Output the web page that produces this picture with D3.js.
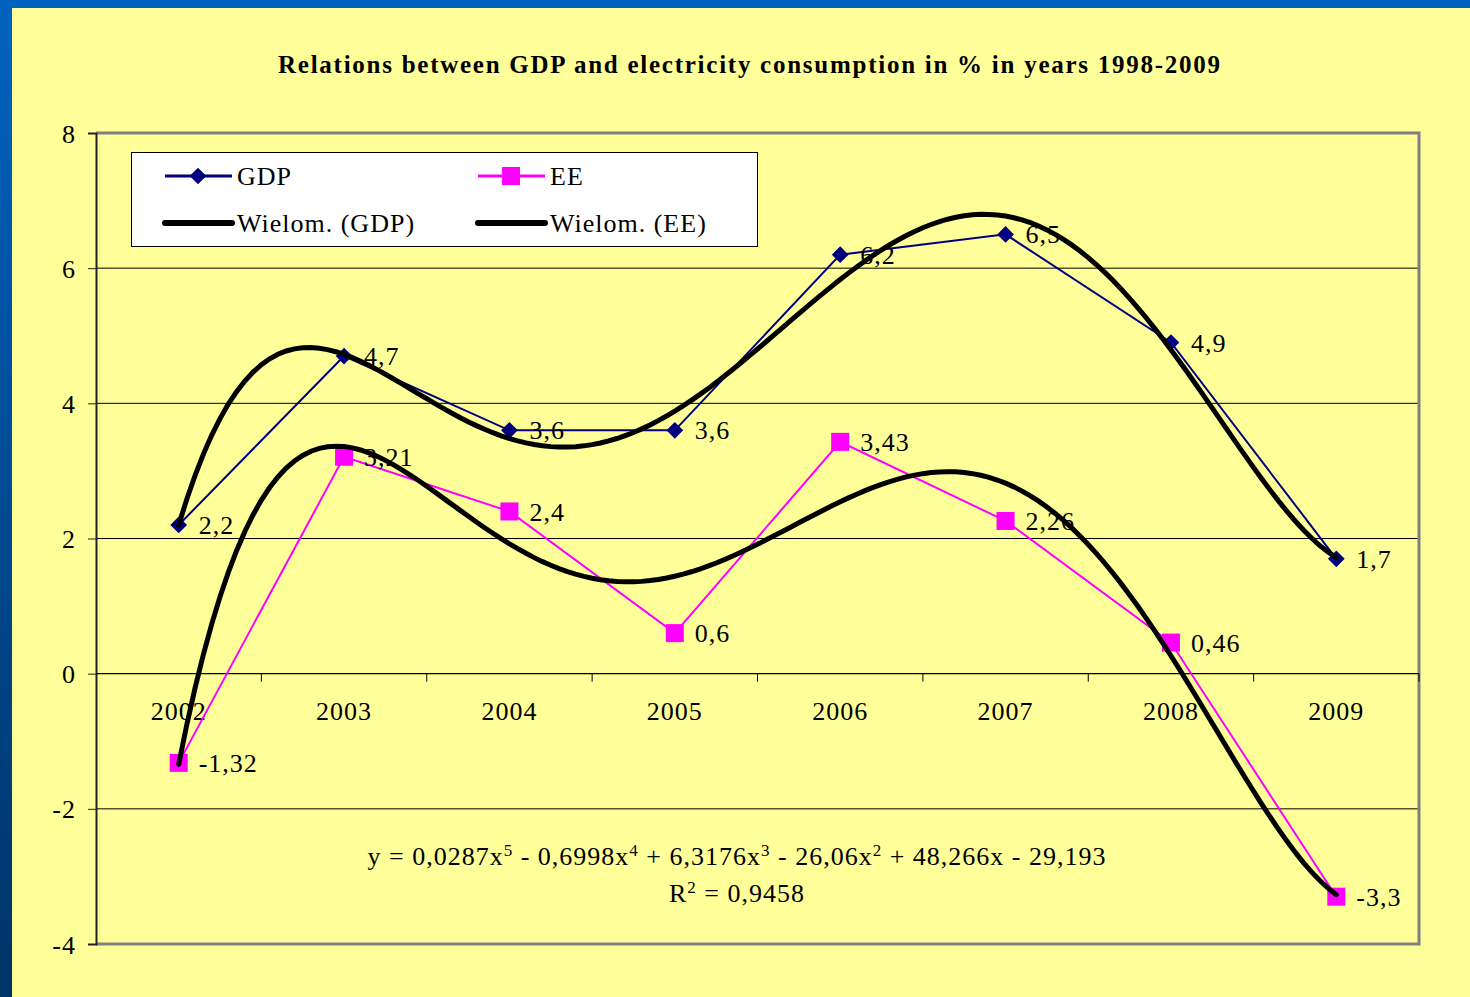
<!DOCTYPE html>
<html><head><meta charset="utf-8">
<script src="https://cdn.jsdelivr.net/npm/d3@7"></script>
<style>
html,body{margin:0;padding:0;background:#FFFF99;}
svg{display:block;}
text{font-family:"Liberation Serif","Times New Roman",serif;fill:#000;}
</style></head>
<body>
<script>
// ---- data ----
const years = ["2002","2003","2004","2005","2006","2007","2008","2009"];
const gdp = [2.2, 4.7, 3.6, 3.6, 6.2, 6.5, 4.9, 1.7];
const ee  = [-1.32, 3.21, 2.4, 0.6, 3.43, 2.26, 0.46, -3.3];
const yTicks = [-4, -2, 0, 2, 4, 6, 8];
const seriesNames = ["GDP", "EE", "Wielom. (GDP)", "Wielom. (EE)"];
const titleText = "Relations between GDP and electricity consumption in % in years 1998-2009";
const eqParts = [["y = 0,0287x",""],["5","sup"],[" - 0,6998x",""],["4","sup"],[" + 6,3176x",""],["3","sup"],[" - 26,06x",""],["2","sup"],[" + 48,266x - 29,193",""]];
const r2Parts = [["R",""],["2","sup"],[" = 0,9458",""]];

// ---- polynomial least squares (degree 5) trendline from data ----
function polyFit(ys, deg){
  const n = deg+1, A = [], b = [];
  for(let i=0;i<n;i++){A.push(new Array(n).fill(0)); b.push(0);}
  ys.forEach((yv,k)=>{const xv=k+1;
    for(let i=0;i<n;i++){ for(let j=0;j<n;j++) A[i][j]+=Math.pow(xv,i+j); b[i]+=yv*Math.pow(xv,i);} });
  for(let c=0;c<n;c++){
    let p=c; for(let r=c+1;r<n;r++) if(Math.abs(A[r][c])>Math.abs(A[p][c])) p=r;
    [A[c],A[p]]=[A[p],A[c]]; [b[c],b[p]]=[b[p],b[c]];
    for(let r=0;r<n;r++){ if(r===c) continue; const f=A[r][c]/A[c][c];
      for(let j=c;j<n;j++) A[r][j]-=f*A[c][j]; b[r]-=f*b[c]; }
  }
  return b.map((v,i)=>v/A[i][i]);
}
const polyEval = (co,x)=>co.reduce((s,c,i)=>s+c*Math.pow(x,i),0);

const W=1470,H=997;
const FS=26, LS=1;
const svg=d3.select("body").append("svg").attr("width",W).attr("height",H);

// background frame
const defs=svg.append("defs");
const lg=defs.append("linearGradient").attr("id","side").attr("x1",0).attr("y1",0).attr("x2",0).attr("y2",1);
lg.append("stop").attr("offset","0%").attr("stop-color","#0062C0");
lg.append("stop").attr("offset","100%").attr("stop-color","#003366");
svg.append("rect").attr("x",0).attr("y",0).attr("width",W).attr("height",H).attr("fill","#FFFF99");
svg.append("rect").attr("x",0).attr("y",0).attr("width",W).attr("height",8).attr("fill","#0060BF");
svg.append("rect").attr("x",0).attr("y",0).attr("width",12).attr("height",H).attr("fill","url(#side)");

const L=96,R=1419,T=133,B=944;
const xBand=d3.scaleBand().domain(years).range([L,R]).padding(0);
const xLin=d3.scaleLinear().domain([0.5,years.length+0.5]).range([L,R]);
const y=d3.scaleLinear().domain([-4,8]).range([B,T]);
const cx=d=>xBand(d)+xBand.bandwidth()/2;
const fmt=v=>String(v).replace(".",",");

// title
svg.append("text").attr("x",(278+1220)/2).attr("y",73).attr("text-anchor","middle")
  .attr("font-weight","bold").attr("font-size",25).attr("textLength",942).attr("lengthAdjust","spacing")
  .text(titleText);

// gridlines
svg.append("g").selectAll("line").data(yTicks.filter(t=>t!==8&&t!==-4&&t!==0)).join("line")
  .attr("x1",L).attr("x2",R).attr("y1",d=>y(d)).attr("y2",d=>y(d)).attr("stroke","#000").attr("stroke-width",1);

// plot border (gray)
svg.append("path").attr("d",`M${L},${T}H${R}V${B}H${L}`).attr("fill","none").attr("stroke","#808080").attr("stroke-width",3);

// y axis
const ya=svg.append("g").attr("transform",`translate(${L},0)`)
  .call(d3.axisLeft(y).tickValues(yTicks).tickSize(8).tickPadding(12).tickFormat(d=>String(d)));
ya.select(".domain").attr("stroke","#222").attr("stroke-width",2);
ya.selectAll(".tick line").attr("stroke","#222");
ya.selectAll("text").attr("font-size",FS).attr("font-family","Liberation Serif").attr("dy","0.35em").attr("letter-spacing",LS);

// x axis on zero line
const y0=y(0);
svg.append("line").attr("x1",L).attr("x2",R).attr("y1",y0).attr("y2",y0).attr("stroke","#000").attr("stroke-width",1.2);
svg.append("g").selectAll("line").data(years.slice(1).concat(["end"])).join("line")
  .attr("x1",d=>d==="end"?R:xBand(d)).attr("x2",d=>d==="end"?R:xBand(d))
  .attr("y1",y0).attr("y2",y0+8).attr("stroke","#000").attr("stroke-width",1);
svg.append("g").selectAll("text").data(years).join("text")
  .attr("x",d=>cx(d)).attr("y",y0+46).attr("text-anchor","middle").attr("font-size",FS).attr("letter-spacing",LS).text(d=>d);

// series lines
const line=d3.line().x((d,i)=>cx(years[i])).y(d=>y(d));
svg.append("path").datum(gdp).attr("d",line).attr("fill","none").attr("stroke","#000080").attr("stroke-width",2);
svg.append("path").datum(ee).attr("d",line).attr("fill","none").attr("stroke","#FF00FF").attr("stroke-width",2);

// markers
const diamond=d3.symbol().type(d3.symbolSquare).size(140);
svg.append("g").selectAll("path").data(gdp).join("path")
  .attr("transform",(d,i)=>`translate(${cx(years[i])},${y(d)}) rotate(45)`).attr("d",diamond).attr("fill","#000080");
svg.append("g").selectAll("rect").data(ee).join("rect")
  .attr("x",(d,i)=>cx(years[i])-9).attr("y",d=>y(d)-9).attr("width",18).attr("height",18).attr("fill","#FF00FF");

// trendlines
const samples=d3.range(1,years.length+0.0001,0.05);
const tl=d3.line().curve(d3.curveLinear).x(d=>xLin(d[0])).y(d=>y(d[1]));
[gdp,ee].forEach(s=>{
  const co=polyFit(s,5);
  svg.append("path").datum(samples.map(xv=>[xv,polyEval(co,xv)])).attr("d",tl)
    .attr("fill","none").attr("stroke","#000").attr("stroke-width",5).attr("stroke-linecap","round");
});

// data labels
[gdp,ee].forEach(s=>{
  svg.append("g").selectAll("text").data(s).join("text")
    .attr("x",(d,i)=>cx(years[i])+20).attr("y",d=>y(d)).attr("dy","0.35em").attr("font-size",FS).attr("letter-spacing",LS)
    .text(d=>fmt(d));
});

// equation
function richText(parts,xc,yb){
  const t=svg.append("text").attr("x",xc).attr("y",yb).attr("text-anchor","middle").attr("font-size",FS).attr("letter-spacing",LS);
  parts.forEach(p=>{
    const ts=t.append("tspan").text(p[0]);
    if(p[1]==="sup") ts.attr("font-size",17).attr("baseline-shift","55%");
  });
}
richText(eqParts,737,865);
richText(r2Parts,737,902);

// legend
const lgG=svg.append("g");
lgG.append("rect").attr("x",131.5).attr("y",152.5).attr("width",626).attr("height",94).attr("fill","#fff").attr("stroke","#000").attr("stroke-width",1);
const leg=[{n:seriesNames[0],x:165,y:176,c:"#000080",w:3,m:"d"},{n:seriesNames[1],x:478,y:176,c:"#FF00FF",w:3,m:"s"},
           {n:seriesNames[2],x:165,y:223,c:"#000",w:6,m:""},{n:seriesNames[3],x:478,y:223,c:"#000",w:6,m:""}];
leg.forEach(e=>{
  lgG.append("line").attr("x1",e.x).attr("x2",e.x+67).attr("y1",e.y).attr("y2",e.y).attr("stroke",e.c).attr("stroke-width",e.w).attr("stroke-linecap",e.m?"butt":"round");
  if(e.m==="d") lgG.append("path").attr("transform",`translate(${e.x+33},${e.y}) rotate(45)`).attr("d",diamond).attr("fill",e.c);
  if(e.m==="s") lgG.append("rect").attr("x",e.x+24).attr("y",e.y-9).attr("width",18).attr("height",18).attr("fill",e.c);
  lgG.append("text").attr("x",e.x+72).attr("y",e.y).attr("dy","0.35em").attr("font-size",FS).attr("letter-spacing",LS).text(e.n);
});
</script>
</body></html>
